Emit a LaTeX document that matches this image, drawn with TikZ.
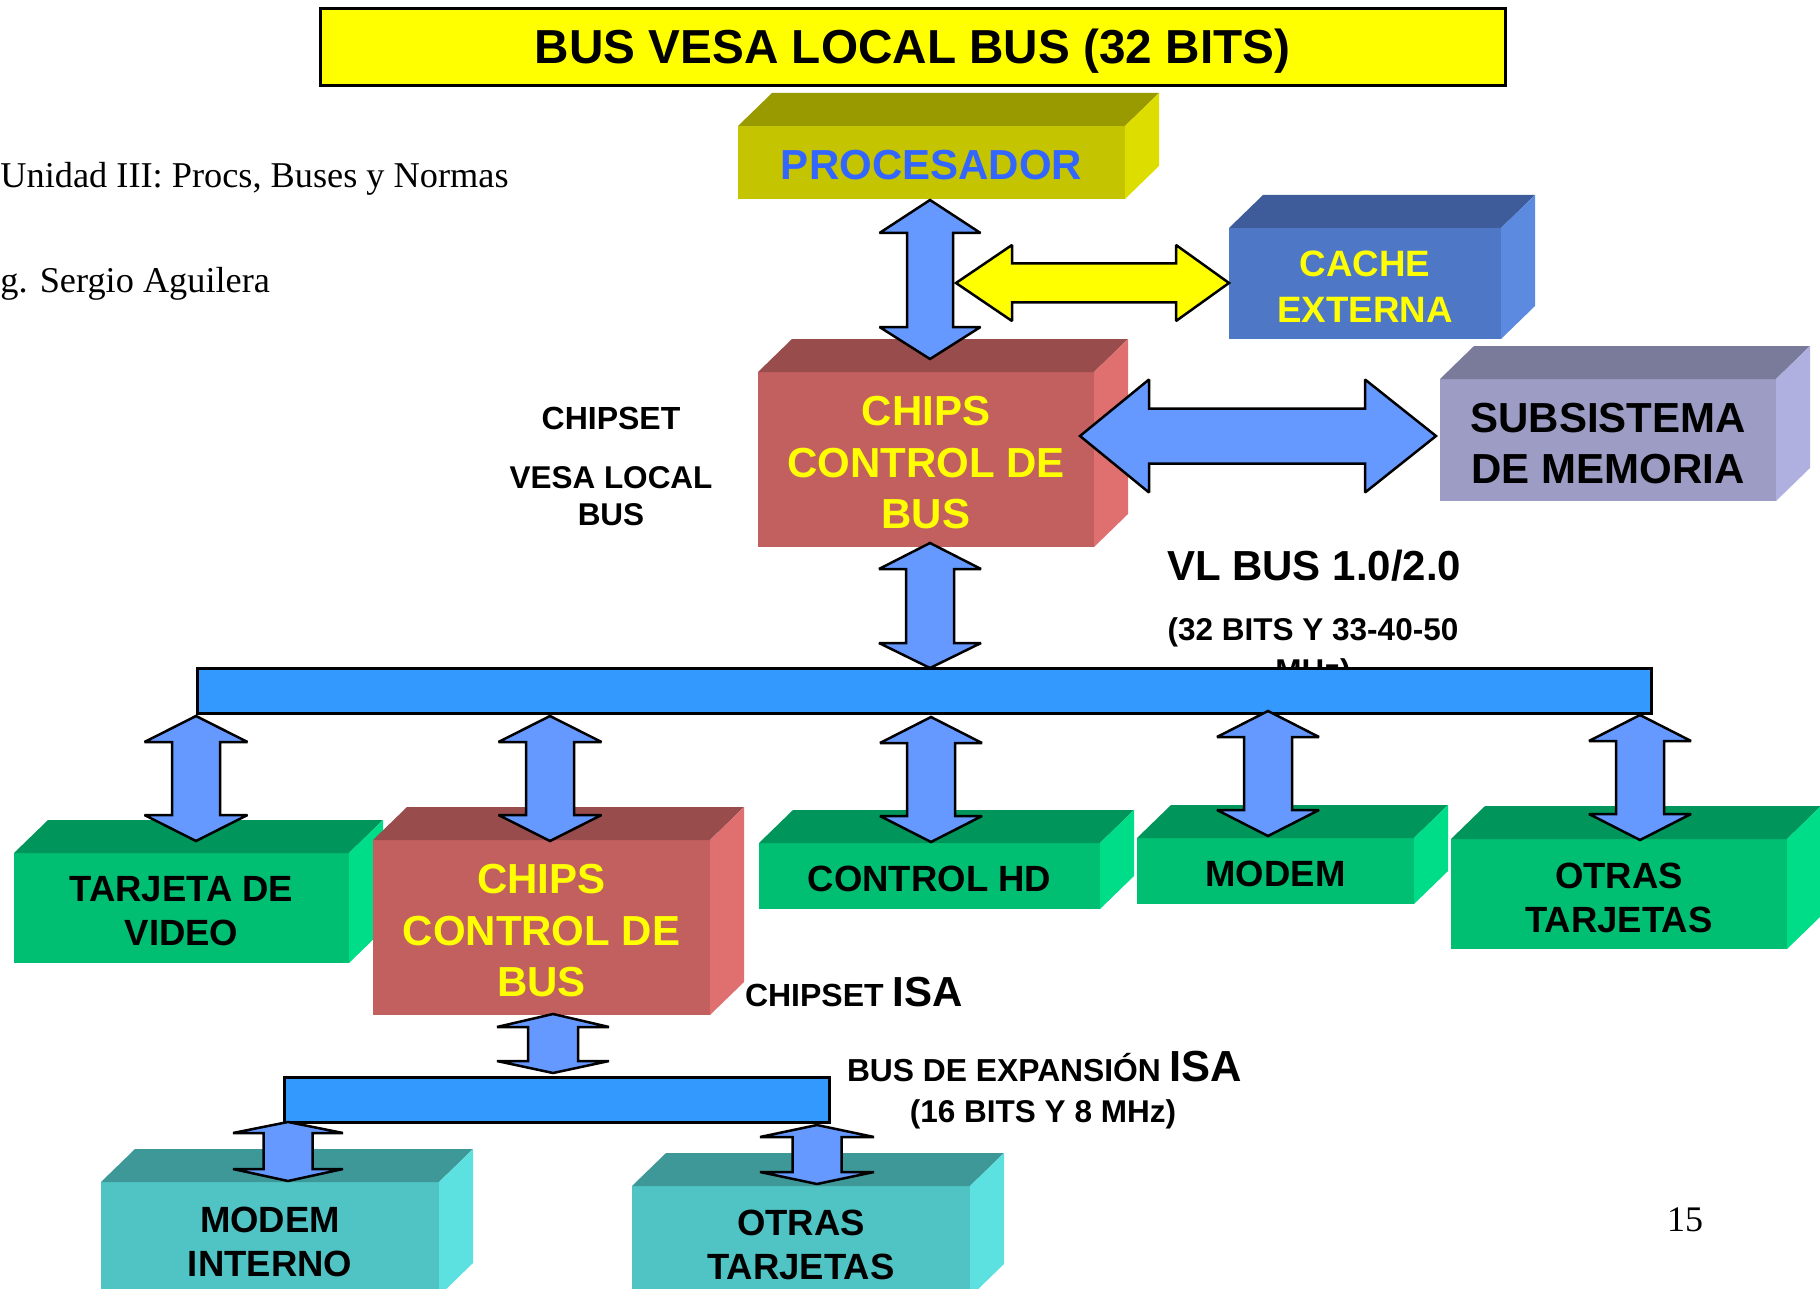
\documentclass[tikz,border=0pt]{standalone}
\usepackage{fontspec}
\setmainfont{Liberation Serif}
\newfontfamily\arialf{Liberation Sans}
\usetikzlibrary{calc}
\definecolor{titley}{HTML}{FFFF00}
\definecolor{procF}{HTML}{C4C400}
\definecolor{procT}{HTML}{999900}
\definecolor{procS}{HTML}{DDDD00}
\definecolor{proctext}{HTML}{3366FF}
\definecolor{cacheF}{HTML}{4E78C6}
\definecolor{cacheT}{HTML}{3D5C99}
\definecolor{cacheS}{HTML}{5B8AE0}
\definecolor{chipF}{HTML}{C26060}
\definecolor{chipT}{HTML}{994C4C}
\definecolor{chipS}{HTML}{E07070}
\definecolor{memF}{HTML}{9C9CC4}
\definecolor{memT}{HTML}{7A7A9A}
\definecolor{memS}{HTML}{B0B0E0}
\definecolor{grnF}{HTML}{00BF72}
\definecolor{grnT}{HTML}{00955A}
\definecolor{grnS}{HTML}{00DD88}
\definecolor{tealF}{HTML}{50C4C4}
\definecolor{tealT}{HTML}{3F9898}
\definecolor{tealS}{HTML}{5CE0E0}
\definecolor{arrowblue}{HTML}{6699FF}
\definecolor{busblue}{HTML}{3399FF}
\definecolor{txtyellow}{HTML}{FFFF00}
\tikzset{
  frontbox/.style={inner sep=0pt, outer sep=0pt, anchor=north west},
  boxtext/.style={inner sep=0pt, outer sep=0pt, align=center,
    font=\arialf\bfseries\fontsize{42}{51.5}\selectfont},
  midfont/.style={font=\arialf\bfseries\fontsize{36.5}{44}\selectfont},
  dblarrow/.style={fill=arrowblue, draw=black, line width=2.5pt, line join=miter, miter limit=2},
  busbar/.style={fill=busblue, draw=black, line width=3pt, inner sep=0pt, outer sep=0pt, anchor=north west},
  lbl/.style={inner sep=0pt, outer sep=0pt, align=center},
}
\newcommand{\faces}[3]{%
  \fill[#2] (#1.north west) -- ++(34,-33) -- ($(#1.north east)+(34,-33)$) -- (#1.north east) -- cycle;
  \fill[#3] (#1.north east) -- ++(34,-33) -- ($(#1.south east)+(34,-33)$) -- (#1.south east) -- cycle;
}
% vertical double arrow: top, bottom, half head, half shaft, head len top, head len bottom
\newcommand{\vdarrow}[6]{%
  \path[dblarrow] let \p1=(#1), \p2=(#2) in
    (\x1,\y1) -- ({\x1+#3pt},{\y1-#5pt}) -- ({\x1+#4pt},{\y1-#5pt}) --
    ({\x1+#4pt},{\y2+#6pt}) -- ({\x1+#3pt},{\y2+#6pt}) -- (\x1,\y2) --
    ({\x1-#3pt},{\y2+#6pt}) -- ({\x1-#4pt},{\y2+#6pt}) --
    ({\x1-#4pt},{\y1-#5pt}) -- ({\x1-#3pt},{\y1-#5pt}) -- cycle;
}
% horizontal double arrow: left, right, half head, half shaft, head len left, head len right
\newcommand{\hdarrow}[7][]{%
  \path[dblarrow,#1] let \p1=(#2), \p2=(#3) in
    (\x1,\y1) -- ({\x1+#6pt},{\y1+#4pt}) -- ({\x1+#6pt},{\y1+#5pt}) --
    ({\x2-#7pt},{\y1+#5pt}) -- ({\x2-#7pt},{\y1+#4pt}) -- (\x2,\y1) --
    ({\x2-#7pt},{\y1-#4pt}) -- ({\x2-#7pt},{\y1-#5pt}) --
    ({\x1+#6pt},{\y1-#5pt}) -- ({\x1+#6pt},{\y1-#4pt}) -- cycle;
}
\begin{document}
\begin{tikzpicture}[x=1pt,y=-1pt]
\useasboundingbox (0,0) rectangle (1820,1289);

% title
\node[frontbox, draw=black, line width=3pt, fill=titley,
  minimum width=1185pt, minimum height=77pt] (title) at (320,9) {};
\node[lbl, font=\arialf\bfseries\fontsize{47.7}{50}\selectfont] (title-t) at ($(title.center)+(0,3.5)$) {BUS VESA LOCAL BUS (32 BITS)};

% side texts
\node[lbl, anchor=base west, font=\fontsize{36.3}{40}\selectfont] (unidad) at (0.5,188) {Unidad III: Procs, Buses y Normas};
\node[lbl, anchor=base west, font=\fontsize{36.3}{40}\selectfont] (autor) at (0.5,293) {g. Sergio Aguilera};
\node[lbl, anchor=base, font=\fontsize{36}{40}\selectfont] (pagnum) at (1685,1231) {15};

% boxes
\node[frontbox, fill=procF, minimum width=387pt, minimum height=73pt] (proc) at (738,126) {};
\faces{proc}{procT}{procS}
\node[boxtext, text=proctext] (proc-t) at ($(proc.center)+(0,3)$) {PROCESADOR};

\node[frontbox, fill=cacheF, minimum width=272pt, minimum height=111pt] (cache) at (1229,228) {};
\faces{cache}{cacheT}{cacheS}
\node[boxtext, text=txtyellow, font=\arialf\bfseries\fontsize{36.7}{46}\selectfont] (cache-t) at ($(cache.center)+(0,3.5)$) {CACHE\\EXTERNA};

\node[frontbox, fill=chipF, minimum width=336pt, minimum height=175pt] (chips) at (758,372) {};
\faces{chips}{chipT}{chipS}
\node[boxtext, text=txtyellow] (chips-t) at ($(chips.center)+(0,3.5)$) {CHIPS\\CONTROL DE\\BUS};

\node[frontbox, fill=memF, minimum width=336pt, minimum height=122pt] (mem) at (1440,379) {};
\faces{mem}{memT}{memS}
\node[boxtext, text=black] (mem-t) at ($(mem.center)+(0,3.5)$) {SUBSISTEMA\\DE MEMORIA};

\node[frontbox, fill=grnF, minimum width=335pt, minimum height=110pt] (video) at (14,853) {};
\faces{video}{grnT}{grnS}
\node[boxtext, midfont, text=black] (video-t) at ($(video.center)+(0,3.5)$) {TARJETA DE\\VIDEO};

\node[frontbox, fill=chipF, minimum width=337pt, minimum height=175pt] (chipsisa) at (373,840) {};
\faces{chipsisa}{chipT}{chipS}
\node[boxtext, text=txtyellow] (chipsisa-t) at ($(chipsisa.center)+(0,3.5)$) {CHIPS\\CONTROL DE\\BUS};

\node[frontbox, fill=grnF, minimum width=341pt, minimum height=66pt] (hd) at (759,843) {};
\faces{hd}{grnT}{grnS}
\node[boxtext, midfont, text=black] (hd-t) at ($(hd.center)+(0,3)$) {CONTROL HD};

\node[frontbox, fill=grnF, minimum width=277pt, minimum height=66pt] (modem) at (1137,838) {};
\faces{modem}{grnT}{grnS}
\node[boxtext, midfont, text=black] (modem-t) at ($(modem.center)+(0,3)$) {MODEM};

\node[frontbox, fill=grnF, minimum width=336pt, minimum height=110pt] (otras) at (1451,839) {};
\faces{otras}{grnT}{grnS}
\node[boxtext, midfont, text=black] (otras-t) at ($(otras.center)+(0,3.5)$) {OTRAS\\TARJETAS};

\node[frontbox, fill=tealF, minimum width=338pt, minimum height=114pt] (modemint) at (101,1182) {};
\faces{modemint}{tealT}{tealS}
\node[boxtext, midfont, text=black] (modemint-t) at ($(modemint.center)+(0,3)$) {MODEM\\INTERNO};

\node[frontbox, fill=tealF, minimum width=338pt, minimum height=111pt] (otrasisa) at (632,1186) {};
\faces{otrasisa}{tealT}{tealS}
\node[boxtext, midfont, text=black] (otrasisa-t) at ($(otrasisa.center)+(0,3)$) {OTRAS\\TARJETAS};

% labels
\node[lbl, font=\arialf\bfseries\fontsize{32}{37}\selectfont] (chipsetlbl) at (611,418) {CHIPSET};
\node[lbl, font=\arialf\bfseries\fontsize{31.5}{37}\selectfont] (vesalbl) at (611,496) {VESA LOCAL\\BUS};
\node[lbl, anchor=west, font=\arialf\bfseries\fontsize{42}{46}\selectfont] (vllbl) at (1167,566) {VL BUS 1.0/2.0};
\node[lbl, anchor=base, font=\arialf\bfseries\fontsize{31.5}{35}\selectfont] (vlsub) at (1313,640) {(32 BITS Y 33-40-50};
\node[lbl, anchor=base, font=\arialf\bfseries\fontsize{31.5}{35}\selectfont] (vlsub2) at (1313,681) {MHz)};
\node[lbl, anchor=base west, font=\arialf\bfseries\fontsize{32}{36}\selectfont] (isalbl) at (745,1006) {CHIPSET {\fontsize{42}{46}\selectfont ISA}};
\node[lbl, anchor=base west, font=\arialf\bfseries\fontsize{31.8}{36}\selectfont] (explbl) at (847,1081) {BUS DE EXPANSIÓN {\fontsize{43.5}{46}\selectfont ISA}};
\node[lbl, font=\arialf\bfseries\fontsize{31.5}{36}\selectfont] (expsub) at (1043,1114) {(16 BITS Y 8 MHz)};

% buses
\node[busbar, minimum width=1454pt, minimum height=45pt] (vlbus) at (197,668) {};
\node[busbar, minimum width=545pt, minimum height=45pt] (isabus) at (284,1077) {};

% arrow end points
\coordinate (a1t) at (930,200);  \coordinate (a1b) at (930,359);
\coordinate (a2t) at (930,543);  \coordinate (a2b) at (930,668);
\coordinate (a3t) at (196,716);  \coordinate (a3b) at (196,841);
\coordinate (a4t) at (550,716);  \coordinate (a4b) at (550,841);
\coordinate (a5t) at (931,717);  \coordinate (a5b) at (931,842);
\coordinate (a6t) at (1268,711); \coordinate (a6b) at (1268,836);
\coordinate (a7t) at (1640,715); \coordinate (a7b) at (1640,840);
\coordinate (a8t) at (553,1014); \coordinate (a8b) at (553,1073);
\coordinate (a9t) at (288,1122); \coordinate (a9b) at (288,1181);
\coordinate (a10t) at (817,1125); \coordinate (a10b) at (817,1184);
\coordinate (h1l) at (956,283);  \coordinate (h1r) at (1229,283);
\coordinate (h2l) at (1080,436); \coordinate (h2r) at (1436,436);

% arrows
\vdarrow{a1t}{a1b}{50.5}{23}{33}{32}
\vdarrow{a2t}{a2b}{51}{24}{26}{25}
\vdarrow{a3t}{a3b}{51.5}{24}{26}{26}
\vdarrow{a4t}{a4b}{51.5}{24}{26}{26}
\vdarrow{a5t}{a5b}{51}{24}{26}{26}
\vdarrow{a6t}{a6b}{51}{24}{26}{26}
\vdarrow{a7t}{a7b}{51}{24}{26}{26}
\vdarrow{a8t}{a8b}{56}{25}{13}{12}
\vdarrow{a9t}{a9b}{55}{24.5}{11}{12}
\vdarrow{a10t}{a10b}{57}{24.5}{12}{12}
\hdarrow[fill=titley]{h1l}{h1r}{38}{19.5}{56}{53}
\hdarrow{h2l}{h2r}{56.5}{27.5}{69}{71}
\end{tikzpicture}
\end{document}
